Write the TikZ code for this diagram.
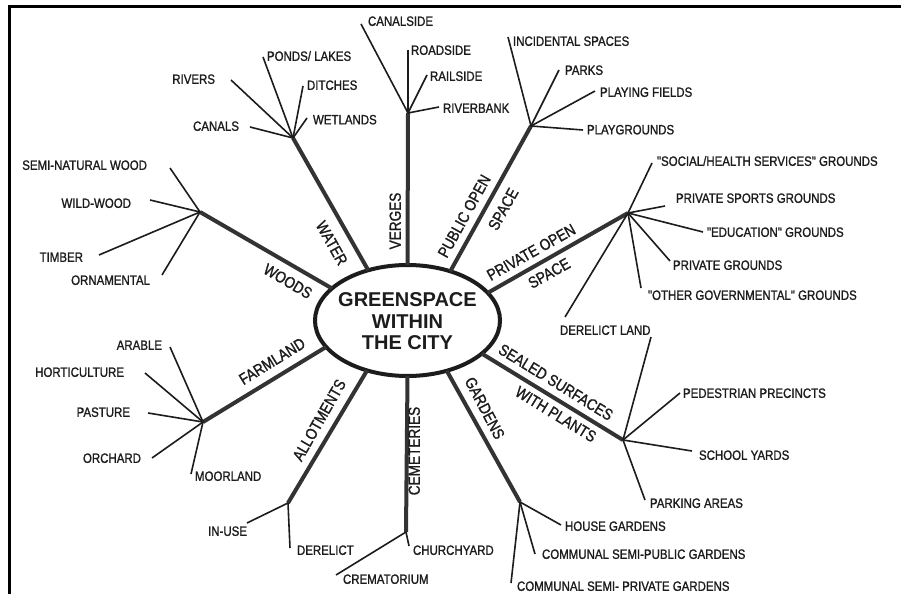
\documentclass[tikz,border=0pt]{standalone}
\usepackage{fontspec}
\setmainfont[FakeStretch=0.85,FakeBold=1.2,Ligatures=TeXOff]{Liberation Sans}
\newfontfamily\titlefont{Liberation Sans}
\usetikzlibrary{shapes.geometric}
\definecolor{ink}{HTML}{1C1C1C}
\definecolor{armink}{HTML}{333333}
\begin{document}
\begin{tikzpicture}[x=1bp,y=-1bp,
  every node/.style={inner sep=0pt, outer sep=0pt, text=ink},
  leaftxt/.style={font=\fontsize{13.5bp}{16bp}\selectfont, text height=9.7bp, text depth=0pt},
  armtxt/.style={font=\fontsize{16bp}{18bp}\selectfont, text height=11.5bp, text depth=0pt},
  arm/.style={draw=armink, line width=4bp},
  twig/.style={draw=ink, line width=1.6bp},
  titletxt/.style={font=\titlefont\bfseries\fontsize{20bp}{21.5bp}\selectfont, align=center}
]
\useasboundingbox (0,0) rectangle (901,594);
\fill[white] (0,0) rectangle (901,594);

% frame (top and left edges)
\draw[line width=3bp, black] (9.5,594) -- (9.5,7) -- (901,7);

% centre
\node[draw=ink, ellipse, line width=4bp, minimum width=185bp, minimum height=111bp] (c) at (407.5,320.5) {};
\node[titletxt] (ctitle) at (407.5,321.5) {GREENSPACE\\WITHIN\\THE CITY};

% hubs
\coordinate (hWat) at (293,138);
\coordinate (hVer) at (408,113);
\coordinate (hPub) at (531,126);
\coordinate (hPri) at (628,213);
\coordinate (hSea) at (623,440);
\coordinate (hGar) at (520,502);
\coordinate (hCem) at (406,532);
\coordinate (hAll) at (288,503);
\coordinate (hFar) at (203,422);
\coordinate (hWoo) at (200,212);

% main arms
\draw[arm] (c.128) -- (hWat);
\draw[arm] (c.90) -- (hVer);
\draw[arm] (c.49) -- (hPub);
\draw[arm] (c.19.5) -- (hPri);
\draw[arm] (c.-24) -- (hSea);
\draw[arm] (c.-52) -- (hGar);
\draw[arm] (c.-90) -- (hCem);
\draw[arm] (c.-129) -- (hAll);
\draw[arm] (c.-162) -- (hFar);
\draw[arm] (c.157) -- (hWoo);

% arm labels
\node[armtxt, rotate=-60.7] (lWat) at (332,243) {WATER};
\node[armtxt, rotate=90] (lVer) at (395,221) {VERGES};
\node[armtxt, rotate=-30.4] (lWoo) at (288,281) {WOODS};
\node[armtxt, rotate=61] (lPub1) at (464,216) {PUBLIC OPEN};
\node[armtxt, rotate=61] (lPub2) at (503,209) {SPACE};
\node[armtxt, rotate=29.3] (lPri1) at (531,252) {PRIVATE OPEN};
\node[armtxt, rotate=29.3] (lPri2) at (549,273) {SPACE};
\node[armtxt, rotate=-31.6] (lSea1) at (556,382) {SEALED SURFACES};
\node[armtxt, rotate=-31.6] (lSea2) at (556,414) {WITH PLANTS};
\node[armtxt, rotate=-62.3] (lGar) at (485,408) {GARDENS};
\node[armtxt, rotate=90] (lCem) at (414,451) {CEMETERIES};
\node[armtxt, rotate=60.3] (lAll) at (319,420) {ALLOTMENTS};
\node[armtxt, rotate=31.7] (lFar) at (272,361) {FARMLAND};

% water
\coordinate (eRiv) at (231,80);
\coordinate (ePon) at (263,57);
\coordinate (eDit) at (303,86);
\coordinate (eWet) at (307,118);
\coordinate (eCan) at (250,127);
\draw[twig] (hWat) -- (eRiv);
\draw[twig] (hWat) -- (ePon);
\draw[twig] (hWat) -- (eDit);
\draw[twig] (hWat) -- (eWet);
\draw[twig] (hWat) -- (eCan);
\node[leaftxt, anchor=east] (tRiv) at (215,79) {RIVERS};
\node[leaftxt, anchor=west] (tPon) at (267,56) {PONDS/ LAKES};
\node[leaftxt, anchor=west] (tDit) at (307,85) {DITCHES};
\node[leaftxt, anchor=west] (tWet) at (313,119.5) {WETLANDS};
\node[leaftxt, anchor=east] (tCan) at (239,126) {CANALS};

% verges
\coordinate (eCsd) at (361,24);
\coordinate (eRsd) at (408,50);
\coordinate (eRls) at (427,75);
\coordinate (eRbk) at (439,107);
\draw[twig] (hVer) -- (eCsd);
\draw[twig] (hVer) -- (eRsd);
\draw[twig] (hVer) -- (eRls);
\draw[twig] (hVer) -- (eRbk);
\node[leaftxt, anchor=west] (tCsd) at (368,21) {CANALSIDE};
\node[leaftxt, anchor=west] (tRsd) at (411,50) {ROADSIDE};
\node[leaftxt, anchor=west] (tRls) at (430,76) {RAILSIDE};
\node[leaftxt, anchor=west] (tRbk) at (443,108) {RIVERBANK};

% public open space
\coordinate (eInc) at (508,37);
\coordinate (ePar) at (559,70);
\coordinate (ePly) at (595,91);
\coordinate (ePlg) at (583,130);
\draw[twig] (hPub) -- (eInc);
\draw[twig] (hPub) -- (ePar);
\draw[twig] (hPub) -- (ePly);
\draw[twig] (hPub) -- (ePlg);
\node[leaftxt, anchor=west] (tInc) at (513,41) {INCIDENTAL SPACES};
\node[leaftxt, anchor=west] (tPar) at (565,70) {PARKS};
\node[leaftxt, anchor=west] (tPly) at (600,92) {PLAYING FIELDS};
\node[leaftxt, anchor=west] (tPlg) at (587,129.5) {PLAYGROUNDS};

% private open space
\coordinate (eSoc) at (652,163);
\coordinate (eSpo) at (665,206);
\coordinate (eEdu) at (703,232);
\coordinate (ePrg) at (670,261);
\coordinate (eOth) at (641,288);
\coordinate (eDer1) at (565,317);
\draw[twig] (hPri) -- (eSoc);
\draw[twig] (hPri) -- (eSpo);
\draw[twig] (hPri) -- (eEdu);
\draw[twig] (hPri) -- (ePrg);
\draw[twig] (hPri) -- (eOth);
\draw[twig] (hPri) -- (eDer1);
\node[leaftxt, anchor=west] (tSoc) at (657,161) {"SOCIAL/HEALTH SERVICES" GROUNDS};
\node[leaftxt, anchor=west] (tSpo) at (676,198) {PRIVATE SPORTS GROUNDS};
\node[leaftxt, anchor=west] (tEdu) at (707,232) {"EDUCATION" GROUNDS};
\node[leaftxt, anchor=west] (tPrg) at (673,265) {PRIVATE GROUNDS};
\node[leaftxt, anchor=west] (tOth) at (648,295) {"OTHER GOVERNMENTAL" GROUNDS};
\node[leaftxt, anchor=west] (tDer) at (560,330) {DERELICT LAND};

% sealed surfaces
\coordinate (eDer2) at (651,337);
\coordinate (ePed) at (680,393);
\coordinate (eSch) at (692,451);
\coordinate (ePkg) at (645,500);
\draw[twig] (hSea) -- (eDer2);
\draw[twig] (hSea) -- (ePed);
\draw[twig] (hSea) -- (eSch);
\draw[twig] (hSea) -- (ePkg);
\node[leaftxt, anchor=west] (tPed) at (683,393) {PEDESTRIAN PRECINCTS};
\node[leaftxt, anchor=west] (tSch) at (699,455) {SCHOOL YARDS};
\node[leaftxt, anchor=west] (tPkg) at (650,503) {PARKING AREAS};

% gardens
\coordinate (eHou) at (561,525);
\coordinate (eCpu) at (535,554);
\coordinate (eCpr) at (511,583);
\draw[twig] (hGar) -- (eHou);
\draw[twig] (hGar) -- (eCpu);
\draw[twig] (hGar) -- (eCpr);
\node[leaftxt, anchor=west] (tHou) at (565,526) {HOUSE GARDENS};
\node[leaftxt, anchor=west] (tCpu) at (542,554) {COMMUNAL SEMI-PUBLIC GARDENS};
\node[leaftxt, anchor=west] (tCpr) at (517,586) {COMMUNAL SEMI- PRIVATE GARDENS};

% cemeteries
\coordinate (eChu) at (409,546);
\coordinate (eCre) at (336,575);
\draw[twig] (hCem) -- (eChu);
\draw[twig] (hCem) -- (eCre);
\node[leaftxt, anchor=west] (tChu) at (413,550) {CHURCHYARD};
\node[leaftxt, anchor=west] (tCre) at (343,579) {CREMATORIUM};

% allotments
\coordinate (eInu) at (247,523);
\coordinate (eDrl) at (290,548);
\draw[twig] (hAll) -- (eInu);
\draw[twig] (hAll) -- (eDrl);
\node[leaftxt, anchor=east] (tInu) at (247,531) {IN-USE};
\node[leaftxt, anchor=west] (tDrl) at (297,550) {DERELICT};

% farmland
\coordinate (eAra) at (170,347);
\coordinate (eHor) at (145,373);
\coordinate (ePas) at (148,413);
\coordinate (eOrc) at (152,458);
\coordinate (eMoo) at (191,474);
\draw[twig] (hFar) -- (eAra);
\draw[twig] (hFar) -- (eHor);
\draw[twig] (hFar) -- (ePas);
\draw[twig] (hFar) -- (eOrc);
\draw[twig] (hFar) -- (eMoo);
\node[leaftxt, anchor=east] (tAra) at (162,345) {ARABLE};
\node[leaftxt, anchor=east] (tHor) at (124,372) {HORTICULTURE};
\node[leaftxt, anchor=east] (tPas) at (130,412) {PASTURE};
\node[leaftxt, anchor=east] (tOrc) at (141,458) {ORCHARD};
\node[leaftxt, anchor=west] (tMoo) at (195,476) {MOORLAND};

% woods
\coordinate (eSem) at (170,168);
\coordinate (eWil) at (150,200);
\coordinate (eTim) at (99,255);
\coordinate (eOrn) at (162,275);
\draw[twig] (hWoo) -- (eSem);
\draw[twig] (hWoo) -- (eWil);
\draw[twig] (hWoo) -- (eTim);
\draw[twig] (hWoo) -- (eOrn);
\node[leaftxt, anchor=east] (tSem) at (147,165) {SEMI-NATURAL WOOD};
\node[leaftxt, anchor=east] (tWil) at (131,203) {WILD-WOOD};
\node[leaftxt, anchor=east] (tTim) at (83,257) {TIMBER};
\node[leaftxt, anchor=east] (tOrn) at (150,280) {ORNAMENTAL};
\end{tikzpicture}
\end{document}
